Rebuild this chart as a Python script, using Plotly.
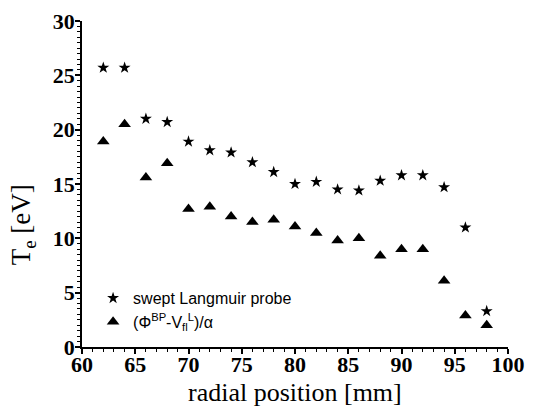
import plotly.graph_objects as go

x_pos = [62, 64, 66, 68, 70, 72, 74, 76, 78, 80, 82, 84, 86, 88, 90, 92, 94, 96, 98]
te_probe = [25.7, 25.7, 21.0, 20.7, 18.9, 18.1, 17.9, 17.0, 16.1, 15.0, 15.2, 14.5,
            14.4, 15.3, 15.8, 15.8, 14.7, 11.0, 3.3]
te_bp = [18.9, 20.5, 15.6, 16.9, 12.7, 12.9, 12.0, 11.5, 11.7, 11.1, 10.5, 9.8,
         10.0, 8.4, 9.0, 9.0, 6.1, 2.9, 2.0]
x_title = "radial position [mm]"
y_title = "T<sub>e</sub> [eV]"

fig = go.Figure()
fig.add_trace(go.Scatter(
    x=x_pos, y=te_probe, mode="markers", name="swept Langmuir probe",
    marker=dict(symbol="star", size=9, color="black")))
fig.add_trace(go.Scatter(
    x=x_pos, y=te_bp, mode="markers",
    name="(Φ<sup>BP</sup>-V<sub>fl</sub><sup>L</sup>)/α",
    marker=dict(symbol="triangle-up", size=11, color="black")))

axis_common = dict(
    showline=True, linecolor="black", linewidth=1.5, mirror=False,
    ticks="outside", ticklen=5, tickwidth=1.5, tickcolor="black",
    showgrid=False, zeroline=False, automargin=False,
    tickfont=dict(family="Liberation Serif", size=22, color="black", weight="bold"),
)

# page body has an 8px default margin, so the figure is 8px smaller
fig.update_layout(
    width=534, height=402,
    margin=dict(l=74, r=34, t=13, b=63),
    paper_bgcolor="white", plot_bgcolor="white",
    showlegend=True,
    legend=dict(x=0.026, y=0.113, xanchor="left", yanchor="middle",
                bgcolor="rgba(0,0,0,0)",
                font=dict(family="Liberation Sans", size=16, color="black"),
                itemwidth=30, tracegroupgap=0),
    xaxis=dict(range=[60, 100], dtick=5, tick0=60, ticklabelstandoff=-8,
               minor=dict(dtick=1, ticks="outside", ticklen=3, tickwidth=1.2, tickcolor="black"),
               **axis_common),
    yaxis=dict(range=[0, 30], dtick=5, tick0=0, ticklabelstandoff=-4,
               minor=dict(dtick=0.5, ticks="outside", ticklen=3, tickwidth=1.2, tickcolor="black"),
               **axis_common),
    annotations=[
        dict(text=x_title, xref="paper", yref="paper", x=0.5, y=-0.141,
             xanchor="center", yanchor="middle", showarrow=False,
             font=dict(family="Liberation Serif", size=26, color="black")),
        dict(text=y_title, xref="paper", yref="paper", x=-0.138, y=0.374,
             xanchor="center", yanchor="middle", showarrow=False, textangle=-90,
             font=dict(family="Liberation Serif", size=27, color="black")),
    ],
)

fig.write_html("out.html")
